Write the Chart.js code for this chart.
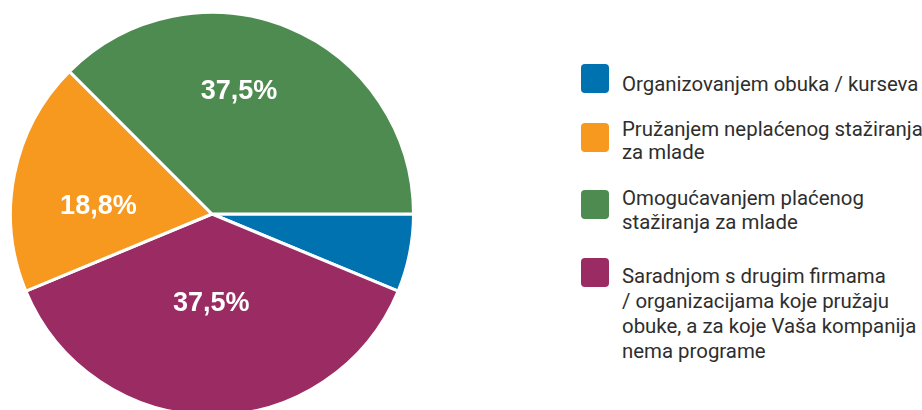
<!DOCTYPE html>
<html>
<head>
<meta charset="utf-8">
<script src="https://cdn.jsdelivr.net/npm/chart.js@4/dist/chart.umd.min.js"></script>
<style>
html,body{margin:0;padding:0;background:#fff;}
body{width:922px;height:410px;overflow:hidden;position:relative;font-family:Roboto,"Liberation Sans",sans-serif;}
#pieBox{position:absolute;left:9px;top:11px;width:406px;height:406px;}
.item{position:absolute;left:581px;}
.sw{position:absolute;left:0;width:28px;height:29px;border-radius:4px;}
.txt{position:absolute;left:41px;white-space:nowrap;color:#2e2e2e;font-size:20.4px;line-height:24px;}
</style>
</head>
<body>
<div id="pieBox"><canvas id="pie"></canvas></div>
<div id="legend"></div>
<script>
// legend order
const categories = [
  "Organizovanjem obuka / kurseva",
  "Pružanjem neplaćenog stažiranja\nza mlade",
  "Omogućavanjem plaćenog\nstažiranja za mlade",
  "Saradnjom s drugim firmama\n/ organizacijama koje pružaju\nobuke, a za koje Vaša kompanija\nnema programe"
];
const shares = [6.25, 18.75, 37.5, 37.5]; // percent
const colors = ["#0072b0", "#f7991f", "#4e8b51", "#9b2b63"];

// order the slices go round the pie, clockwise from 3 o'clock
const drawOrder = [0, 3, 1, 2];

// legend layout (square top, text top, line height)
const legendPos = [
  {sq:64, tx:72, lh:24},
  {sq:123, tx:118, lh:23},
  {sq:190, tx:186, lh:24},
  {sq:258, tx:264, lh:25}
];

const legend = document.getElementById("legend");
categories.forEach(function(c,i){
  const it = document.createElement("div");
  it.className = "item";
  const sw = document.createElement("div");
  sw.className = "sw";
  sw.style.top = legendPos[i].sq + "px";
  sw.style.background = colors[i];
  const tx = document.createElement("div");
  tx.className = "txt";
  tx.style.top = legendPos[i].tx + "px";
  tx.style.lineHeight = legendPos[i].lh + "px";
  tx.innerHTML = c.split("\n").join("<br>");
  it.appendChild(sw);
  it.appendChild(tx);
  legend.appendChild(it);
});

// label spot tweaks per category: angle shift (deg), radius fraction
const labelSpot = [
  {shift:0, frac:0.6},
  {shift:-7.5, frac:0.565},
  {shift:-10, frac:0.62},
  {shift:0.5, frac:0.445}
];

const pctLabels = {
  id:"pctLabels",
  afterDatasetsDraw(chart){
    const ctx = chart.ctx;
    const meta = chart.getDatasetMeta(0);
    ctx.save();
    ctx.fillStyle = "#fff";
    ctx.font = "bold 27px 'Liberation Sans', Arial, sans-serif";
    ctx.textAlign = "center";
    ctx.textBaseline = "middle";
    meta.data.forEach(function(arc,j){
      const i = drawOrder[j];
      const v = shares[i];
      if (v < 10) return;
      const p = arc.getProps(["x","y","startAngle","endAngle","outerRadius"], true);
      const a = (p.startAngle + p.endAngle)/2 + labelSpot[i].shift*Math.PI/180;
      const r = p.outerRadius * labelSpot[i].frac;
      ctx.fillText(v.toFixed(1).replace(".", ",") + "%", p.x + Math.cos(a)*r, p.y + Math.sin(a)*r);
    });
    ctx.restore();
  }
};

new Chart(document.getElementById("pie"), {
  type:"pie",
  data:{
    labels: drawOrder.map(i => categories[i]),
    datasets:[{
      data: drawOrder.map(i => shares[i]),
      backgroundColor: drawOrder.map(i => colors[i]),
      borderColor:"#fff",
      borderWidth:3
    }]
  },
  options:{
    responsive:true,
    maintainAspectRatio:false,
    animation:false,
    rotation:90,
    layout:{padding:0},
    plugins:{
      legend:{display:false},
      tooltip:{enabled:false}
    }
  },
  plugins:[pctLabels]
});
</script>
</body>
</html>
